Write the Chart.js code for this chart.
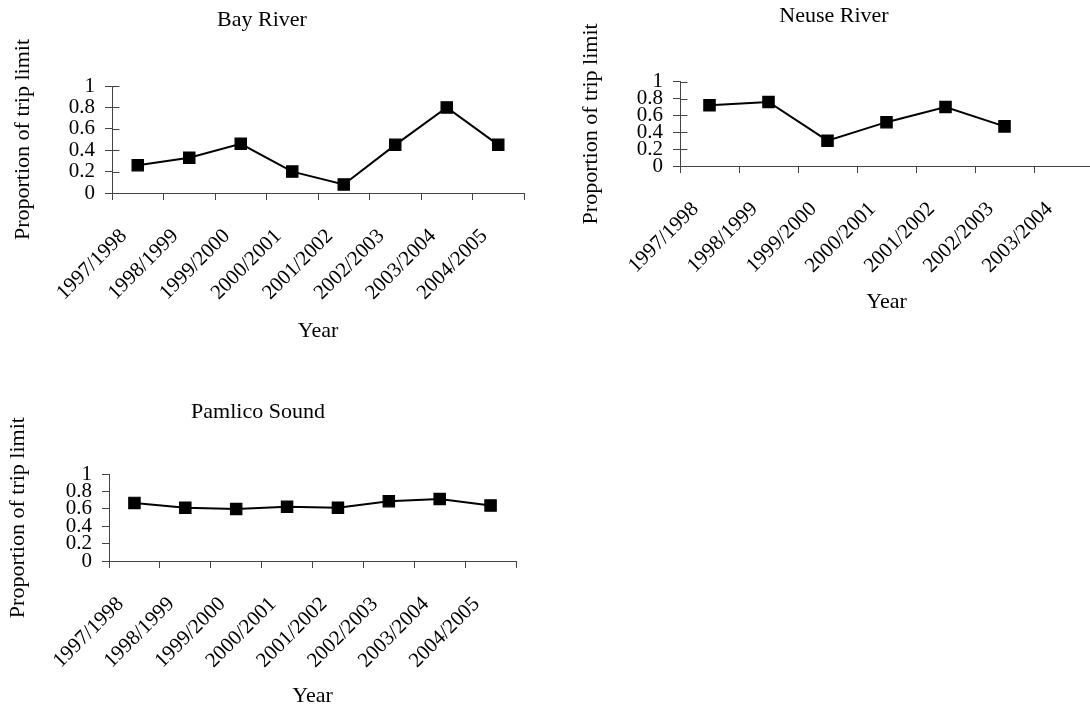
<!DOCTYPE html>
<html><head><meta charset="utf-8">
<script src="https://cdn.jsdelivr.net/npm/chart.js@4/dist/chart.umd.min.js"></script>
<style>
html,body{margin:0;padding:0;background:#fff;overflow:hidden;width:1090px;height:709px;position:relative}
canvas{position:absolute}
</style></head><body>
<canvas id="bay" width="526" height="344" style="left:0px;top:0px"></canvas>
<canvas id="neuse" width="518" height="315" style="left:575px;top:0px"></canvas>
<canvas id="pam" width="518" height="329" style="left:0px;top:380px"></canvas>
<script>
// ---- data ----
const seasons = ['1997/1998','1998/1999','1999/2000','2000/2001','2001/2002','2002/2003','2003/2004','2004/2005'];
const seasonsNeuse = ['1997/1998','1998/1999','1999/2000','2000/2001','2001/2002','2002/2003','2003/2004'];
const bayRiver = [0.26, 0.33, 0.46, 0.20, 0.08, 0.45, 0.80, 0.45];
const neuseRiver = [0.72, 0.76, 0.30, 0.52, 0.70, 0.47, null];
const pamlicoSound = [0.67, 0.615, 0.60, 0.625, 0.615, 0.69, 0.715, 0.64];
const yTickValues = [0, 0.2, 0.4, 0.6, 0.8, 1];
const yTickLabels = ['0', '0.2', '0.4', '0.6', '0.8', '1'];
const titles = ['Bay River', 'Neuse River', 'Pamlico Sound'];
const xTitle = 'Year';
const yTitle = 'Proportion of trip limit';

// ---- style ----
const FONT = "'Liberation Serif', 'Times New Roman', Times, serif";
const AXIS = '#444';

const crossTicksPlugin = {
  id: 'crossTicks',
  afterDraw(chart, args, opts) {
    if (!opts || !opts.enabled) return;
    const y = chart.scales.y;
    const ctx = chart.ctx;
    const x0 = Math.round(chart.chartArea.left) + 0.5;
    ctx.save();
    ctx.strokeStyle = AXIS;
    ctx.lineWidth = 1;
    y.ticks.forEach((t, i) => {
      const py = Math.round(y.getPixelForTick(i)) + 0.5;
      ctx.beginPath();
      ctx.moveTo(x0, py);
      ctx.lineTo(x0 + opts.length, py);
      ctx.stroke();
    });
    ctx.restore();
  }
};

function makeChart(id, c) {
  return new Chart(document.getElementById(id), {
    type: 'line',
    data: {
      labels: c.labels,
      datasets: [{
        data: c.data,
        borderColor: '#000',
        borderWidth: 2,
        backgroundColor: '#000',
        pointStyle: 'rect',
        pointRadius: 8,
        pointBorderWidth: 1.2,
        pointBackgroundColor: '#000',
        pointBorderColor: '#000',
        tension: 0,
        spanGaps: false,
        clip: false
      }]
    },
    plugins: [crossTicksPlugin],
    options: {
      responsive: false,
      animation: false,
      devicePixelRatio: 1,
      layout: { padding: { left: 0, top: 0, bottom: 0, right: c.padR }, autoPadding: false },
      plugins: {
        legend: { display: false },
        tooltip: { enabled: false },
        title: {
          display: true,
          text: c.title,
          color: '#000',
          font: { family: FONT, size: 22, weight: 'normal', lineHeight: 1.2 },
          padding: { top: c.tPadTop, bottom: c.tPadBottom }
        },
        crossTicks: { enabled: c.cross, length: 7 }
      },
      scales: {
        x: {
          type: 'category',
          offset: true,
          grid: { offset: true, drawOnChartArea: false, drawTicks: true, tickLength: 7, color: AXIS },
          border: { display: true, color: AXIS, width: 1 },
          ticks: {
            autoSkip: false, minRotation: 45, maxRotation: 45,
            color: '#000', padding: 24, labelOffset: -14,
            font: { family: FONT, size: 21 }
          },
          title: {
            display: true, text: xTitle, color: '#000',
            font: { family: FONT, size: 22, lineHeight: 1.2 },
            padding: { top: 0, bottom: 0 }
          },
          afterFit(s) { s.height = c.xH; s.paddingLeft = 0; s.paddingRight = 0; }
        },
        y: {
          min: 0, max: 1,
          afterBuildTicks(s) { s.ticks = yTickValues.map(v => ({ value: v })); },
          grid: { drawOnChartArea: false, drawTicks: true, tickLength: 7, color: AXIS },
          border: { display: true, color: AXIS, width: 1 },
          ticks: {
            autoSkip: false,
            color: '#000', padding: 10,
            font: { family: FONT, size: 21, lineHeight: 1 },
            callback(v, i) { return yTickLabels[i]; }
          },
          title: {
            display: true, text: yTitle, color: '#000',
            font: { family: FONT, size: 22, lineHeight: 1.2 },
            padding: { top: c.yTPad, bottom: 0 }
          },
          afterFit(s) { s.width = c.yW; }
        }
      }
    }
  });
}

makeChart('bay', { title: titles[0], labels: seasons, data: bayRiver, padR: 2,
  tPadTop: 6.8, tPadBottom: 52.8, xH: 151, yW: 112, yTPad: 10, cross: true });
makeChart('neuse', { title: titles[1], labels: seasonsNeuse, data: neuseRiver, padR: 0,
  tPadTop: 2.8, tPadBottom: 52.5, xH: 149, yW: 105, yTPad: 2.8, cross: true });
makeChart('pam', { title: titles[2], labels: seasons, data: pamlicoSound, padR: 2,
  tPadTop: 19.1, tPadBottom: 48.8, xH: 148, yW: 109, yTPad: 4.8, cross: false });
</script>
</body></html>
